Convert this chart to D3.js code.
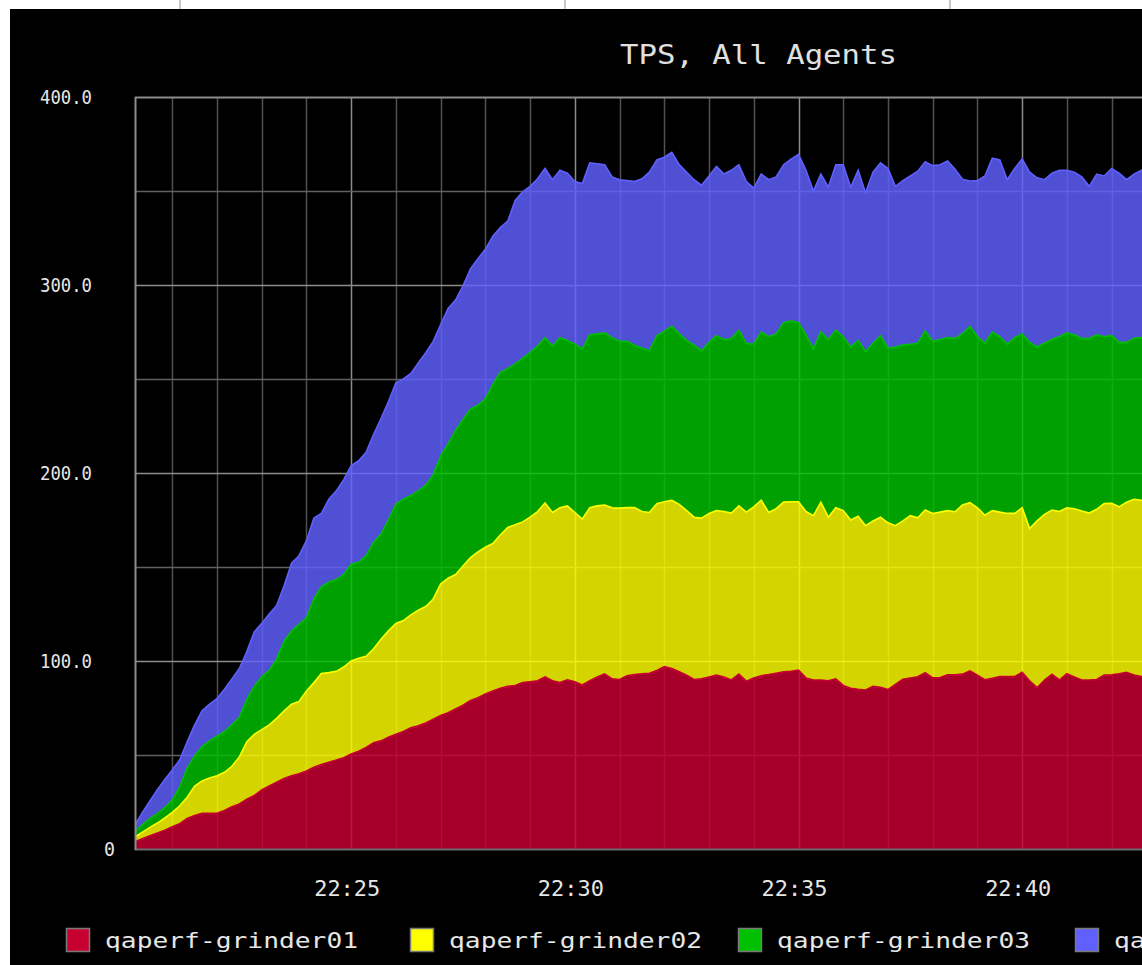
<!DOCTYPE html>
<html><head><meta charset="utf-8">
<script src="https://cdn.jsdelivr.net/npm/d3@7"></script>
<style>html,body{margin:0;padding:0;background:#fff;}svg{display:block}</style>
</head><body>
<svg id="c" width="1142" height="965"></svg>
<script>
// ---------------- data ----------------
const chartTitle = "TPS, All Agents";
const seriesNames = ["qaperf-grinder01", "qaperf-grinder02", "qaperf-grinder03", "qaperf-grinder04"];
const seriesColors = ["#c80032", "#ffff00", "#00c000", "#6060ff"];
const startTime = [22, 20, 10];   // first sample (h, m, s)
const endTime = [22, 48, 0];      // right end of the time axis
const stepSeconds = 10;           // sampling interval

const grinder01 = [3.9,5.5,7.0,8.5,10.0,11.8,13.5,16.2,17.8,19.0,19.0,19.0,20.5,22.5,24.0,26.5,28.5,31.4,33.5,35.5,
  37.5,39.0,40.0,41.5,43.5,45.0,46.2,47.3,48.5,50.5,52.0,54.0,56.5,57.5,59.5,61.0,62.5,64.5,65.5,67.0,
  69.0,71.0,72.5,74.5,76.5,79.0,80.5,82.5,84.0,85.5,86.5,87.0,88.5,89.0,89.5,91.5,89.5,88.5,90.0,89.0,
  87.2,89.5,91.5,93.2,90.5,90.2,92.2,92.8,93.2,93.5,95.0,97.0,96.0,94.3,92.5,90.2,90.5,91.5,92.5,91.5,
  89.9,93.0,89.3,91.0,92.2,92.8,93.5,94.2,94.5,95.2,91.0,89.9,89.9,89.5,90.5,87.0,85.5,85.0,84.6,86.5,
  86.0,84.8,87.5,90.3,91.0,91.6,93.8,91.0,91.2,92.6,92.6,93.0,94.8,92.5,90.0,90.8,91.7,91.7,91.7,94.0,
  89.5,85.8,89.9,93.0,90.0,93.2,91.5,89.9,89.9,90.2,92.5,92.6,93.2,94.0,92.5,91.7,92.0];
const grinder02 = [2.5,3.5,4.5,5.3,6.5,7.7,9.5,11.3,15.7,17.2,18.8,20.0,20.3,21.5,25.0,30.5,32.5,32.1,32.5,34.0,
  36.0,38.0,38.5,42.5,45.0,48.4,47.6,47.2,48.3,49.5,49.5,48.5,50.0,54.0,56.5,59.0,59.0,60.0,61.5,62.0,
  64.0,70.0,71.5,71.5,74.0,76.0,77.5,78.0,78.5,81.5,84.5,85.5,85.5,87.5,90.0,92.5,89.5,93.0,92.5,90.0,
  88.3,92.0,91.0,89.8,91.0,91.1,89.4,88.8,86.3,85.5,88.7,87.7,89.5,89.0,87.5,86.3,85.5,87.0,87.5,88.0,
  88.8,89.5,89.9,91.0,93.3,86.2,87.5,90.3,90.2,89.5,88.5,87.4,94.6,87.0,91.0,93.0,89.5,92.0,87.4,88.0,
  90.5,88.7,84.5,84.2,86.3,84.6,86.5,87.5,88.0,87.4,86.8,90.0,89.4,89.0,87.5,89.2,87.5,86.8,86.8,87.5,
  81.0,88.7,88.1,87.3,89.5,88.3,89.5,89.9,88.8,90.5,91.2,91.3,88.8,90.5,93.5,93.8,93.0];
const grinder03 = [2.8,4.0,4.7,5.2,5.5,6.5,10.0,15.5,16.0,18.3,19.7,21.0,21.7,22.0,21.0,22.5,25.5,28.1,29.0,31.5,
  37.0,39.0,41.0,39.0,44.5,46.1,48.2,48.8,49.2,51.5,51.0,53.5,56.5,56.0,59.0,63.5,64.5,63.5,63.5,64.5,
  66.0,68.0,71.5,76.5,78.0,79.0,78.0,79.0,84.5,86.5,84.5,85.5,87.0,87.5,88.0,88.0,88.5,90.5,88.0,89.5,
  90.5,92.0,91.5,91.5,90.5,88.7,88.4,86.4,87.0,86.0,89.3,90.8,92.5,90.7,90.5,91.5,89.0,91.0,93.0,91.5,
  92.8,93.5,89.8,86.5,89.5,93.5,93.0,95.5,96.3,95.3,94.0,88.7,90.5,94.5,94.5,92.5,92.0,93.5,92.5,94.5,
  96.5,93.0,95.0,93.5,91.2,92.8,95.2,91.5,91.8,92.0,92.2,91.0,93.8,91.0,91.5,95.0,93.3,90.0,93.5,92.5,
  99.0,92.5,91.0,90.7,93.0,93.0,92.5,91.7,92.8,92.8,88.8,89.3,87.5,85.0,85.6,86.5,87.0];
const grinder04 = [3.6,6.5,9.3,12.5,15.0,16.0,14.5,14.0,16.5,19.0,19.5,20.0,22.5,24.5,26.0,25.5,29.0,28.4,30.0,28.5,
  29.5,36.0,36.5,41.0,43.0,39.0,44.0,47.2,50.5,52.5,54.0,55.0,57.5,61.5,63.0,64.5,64.0,65.0,68.0,70.5,
  71.0,70.0,72.0,69.5,71.0,74.5,78.0,79.5,79.0,77.0,78.5,87.0,88.5,88.5,89.0,90.0,88.5,89.0,89.0,86.5,
  88.0,91.5,90.5,89.5,85.5,86.0,85.5,87.0,90.0,95.0,93.5,92.5,92.5,90.0,89.5,88.0,88.0,88.5,90.0,88.0,
  89.5,88.0,86.0,83.0,84.0,83.5,83.5,84.0,86.0,89.5,87.5,84.0,84.0,81.0,88.0,91.5,85.0,90.5,84.5,91.0,
  92.0,95.5,85.5,87.5,89.5,91.5,90.0,93.5,93.0,94.0,89.9,82.3,77.3,83.0,89.0,92.5,94.0,87.5,90.0,93.0,
  90.5,90.0,87.0,88.5,88.5,86.5,86.5,86.0,81.0,85.5,85.5,88.8,90.0,86.5,87.4,89.0,90.0];

const yTickValues = [0, 100, 200, 300, 400];
const yTickLabels = ["0", "100.0", "200.0", "300.0", "400.0"];
const xTickLabels = ["22:25", "22:30", "22:35", "22:40"];

// ---------------- drawing ----------------
const svg = d3.select("#c");
const W = 1142, H = 965;
const plot = {left: 135, top: 97, right: 1380, bottom: 849};
const FONT = "'DejaVu Sans Mono', 'Liberation Mono', monospace";

const t = (hms) => new Date(2000, 0, 1, hms[0], hms[1], hms[2]);
const t0 = t(startTime);
const series = [grinder01, grinder02, grinder03, grinder04];
const rows = grinder01.map((_, i) => {
  const r = {time: d3.timeSecond.offset(t0, i * stepSeconds)};
  seriesNames.forEach((n, k) => r[n] = series[k][i]);
  return r;
});

const x = d3.scaleTime().domain([t0, t(endTime)]).range([plot.left, plot.right]);
const y = d3.scaleLinear().domain([0, 400]).range([plot.bottom, plot.top]);

// page background: white frame, black chart panel
svg.append("rect").attr("width", W).attr("height", H).attr("fill", "#fff");
[180, 565, 950].forEach(px => svg.append("line").attr("x1", px).attr("x2", px).attr("y1", 0).attr("y2", 9)
  .attr("stroke", "#c8c8c8").attr("stroke-width", 2));
svg.append("rect").attr("x", 10).attr("y", 9).attr("width", W - 10).attr("height", H - 9).attr("fill", "#000");

// grid
const grid = svg.append("g");
const minutes = d3.timeMinute.range(d3.timeMinute.ceil(t0), t(endTime));
grid.selectAll("line.v").data(minutes).join("line")
  .attr("x1", d => Math.round(x(d)) + 0.5).attr("x2", d => Math.round(x(d)) + 0.5)
  .attr("y1", plot.top).attr("y2", plot.bottom)
  .attr("stroke", d => d.getMinutes() % 5 === 0 ? "#8c8c8c" : "#505050").attr("stroke-width", 1.5);
grid.selectAll("line.h").data(d3.range(50, 400, 50)).join("line")
  .attr("x1", plot.left).attr("x2", plot.right)
  .attr("y1", d => Math.round(y(d)) + 0.5).attr("y2", d => Math.round(y(d)) + 0.5)
  .attr("stroke", d => d % 100 === 0 ? "#8c8c8c" : "#606060").attr("stroke-width", 1.5);

// stacked areas
const stack = d3.stack().keys(seriesNames);
const layers = stack(rows);
svg.append("clipPath").attr("id", "pc").append("rect")
  .attr("x", plot.left).attr("y", plot.top).attr("width", plot.right - plot.left).attr("height", plot.bottom - plot.top);
const area = d3.area().x(d => x(d.data.time)).y0(d => y(d[0])).y1(d => y(d[1]));
const line = d3.line().x(d => x(d.data.time)).y(d => y(d[1]));
const g = svg.append("g").attr("clip-path", "url(#pc)");
g.selectAll("path.area").data(layers).join("path")
  .attr("d", area).attr("fill", (d, i) => seriesColors[i]).attr("fill-opacity", 0.83);
g.selectAll("path.edge").data(layers).join("path")
  .attr("d", line).attr("fill", "none").attr("stroke", (d, i) => seriesColors[i]).attr("stroke-width", 1.6);

// frame
svg.append("line").attr("x1", plot.left).attr("x2", plot.right).attr("y1", plot.top + 0.5).attr("y2", plot.top + 0.5)
  .attr("stroke", "#8c8c8c").attr("stroke-width", 2);
svg.append("line").attr("x1", plot.left).attr("x2", plot.right).attr("y1", plot.bottom + 0.5).attr("y2", plot.bottom + 0.5)
  .attr("stroke", "#6a6a6a").attr("stroke-width", 2);
svg.append("line").attr("x1", plot.left + 0.5).attr("x2", plot.left + 0.5).attr("y1", plot.top).attr("y2", plot.bottom + 1)
  .attr("stroke", "#8c8c8c").attr("stroke-width", 2);

// y labels
svg.append("g").selectAll("text").data(yTickValues).join("text")
  .attr("x", d => d === 0 ? 104 : 40).attr("y", d => y(d) + 7)
  .attr("font-family", FONT).attr("font-size", 19)
  .attr("textLength", d => d === 0 ? 11 : 52).attr("lengthAdjust", "spacingAndGlyphs")
  .attr("fill", "#e6e6e6").text((d, i) => yTickLabels[i]);

// x labels
const xTicks = xTickLabels.map(s => { const [h, m] = s.split(":").map(Number); return t([h, m, 0]); });
svg.append("g").selectAll("text").data(xTicks).join("text")
  .attr("x", d => x(d) - 37).attr("y", 896)
  .attr("font-family", FONT).attr("font-size", 21)
  .attr("textLength", 66).attr("lengthAdjust", "spacingAndGlyphs")
  .attr("fill", "#e6e6e6").text((d, i) => xTickLabels[i]);

// title
svg.append("text").attr("x", 620).attr("y", 64)
  .attr("font-family", FONT).attr("font-size", 26)
  .attr("textLength", 277).attr("lengthAdjust", "spacingAndGlyphs")
  .attr("fill", "#e0e0e0").text(chartTitle);

// legend
const legendX = [66, 410, 738, 1075];
const lg = svg.append("g").selectAll("g").data(seriesNames).join("g")
  .attr("transform", (d, i) => `translate(${legendX[i]},928)`);
lg.append("rect").attr("x", 0.5).attr("y", 0.5).attr("width", 23).attr("height", 23)
  .attr("fill", (d, i) => seriesColors[i]).attr("stroke", "#7a7a7a").attr("stroke-width", 1.5);
lg.append("text").attr("x", 39).attr("y", 20).attr("font-family", FONT).attr("font-size", 22)
  .attr("textLength", 253).attr("lengthAdjust", "spacingAndGlyphs")
  .attr("fill", "#e6e6e6").text(d => d);
</script>
</body></html>
